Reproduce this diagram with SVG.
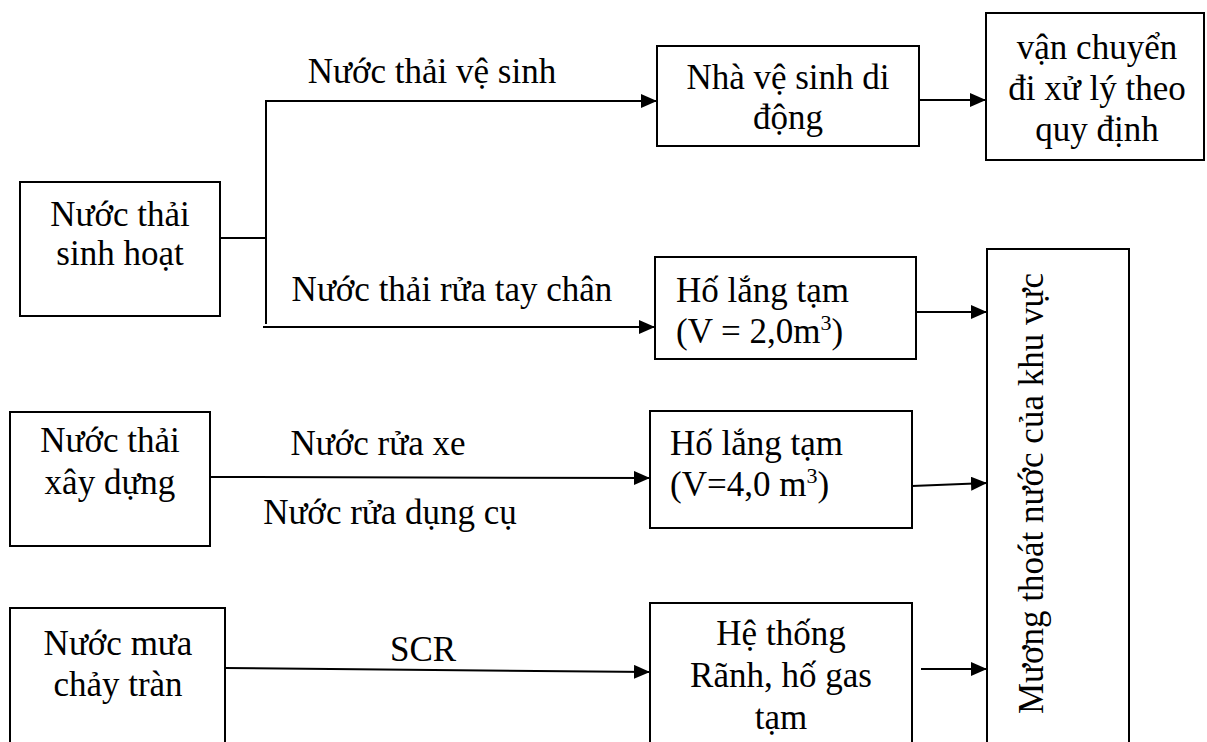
<svg xmlns="http://www.w3.org/2000/svg" width="1207" height="742" viewBox="0 0 1207 742">
<defs>
<style>
.box{fill:#fff;stroke:#000;stroke-width:2}
.ln{fill:none;stroke:#000;stroke-width:2}
.arr{fill:none;stroke:#000;stroke-width:2;marker-end:url(#ah)}
.t{font-family:'Liberation Serif','DejaVu Serif',serif;font-size:35px;fill:#000}
.c{text-anchor:middle}
</style>
<marker id="ah" markerUnits="userSpaceOnUse" markerWidth="16" markerHeight="14" refX="16" refY="7" orient="auto">
<path d="M0,0 L16,7 L0,14 Z" fill="#000"/>
</marker>
</defs>
<rect width="1207" height="742" fill="#fff"/>
<g id="connectors">
<line class="ln" x1="220" y1="238" x2="266" y2="238"/>
<line class="ln" x1="266" y1="100" x2="266" y2="324"/>
<line class="arr" x1="265" y1="101" x2="657" y2="101"/>
<line class="arr" x1="263" y1="327" x2="655" y2="327"/>
<line class="arr" x1="919" y1="100" x2="986" y2="100"/>
<line class="arr" x1="916" y1="312" x2="987" y2="312"/>
<line class="arr" x1="210" y1="477" x2="650" y2="478"/>
<line class="arr" x1="912" y1="486" x2="987" y2="483"/>
<line class="arr" x1="225" y1="668" x2="650" y2="672"/>
<line class="arr" x1="921" y1="669" x2="987" y2="669"/>
<g class="t" font-family="Liberation Serif, DejaVu Serif, serif">
<text class="c" x="432" y="83">Nước thải vệ sinh</text>
<text class="c" x="452" y="301">Nước thải rửa tay chân</text>
<text class="c" x="378" y="455">Nước rửa xe</text>
<text class="c" x="390" y="524">Nước rửa dụng cụ</text>
<text class="c" x="423" y="661">SCR</text>
</g>
</g>
<g id="n-sinhhoat" class="t" font-family="Liberation Serif, DejaVu Serif, serif">
<rect class="box" x="20" y="182" width="200" height="134"/>
<text class="c" x="120" y="226">Nước thải</text>
<text class="c" x="120" y="265">sinh hoạt</text>
</g>
<g id="n-nhavesinh" class="t" font-family="Liberation Serif, DejaVu Serif, serif">
<rect class="box" x="657" y="46" width="262" height="100"/>
<text class="c" x="788" y="89">Nhà vệ sinh di</text>
<text class="c" x="788" y="129">động</text>
</g>
<g id="n-vanchuyen" class="t" font-family="Liberation Serif, DejaVu Serif, serif">
<rect class="box" x="986" y="13" width="218" height="147"/>
<text class="c" x="1097" y="59">vận chuyển</text>
<text class="c" x="1097" y="100">đi xử lý theo</text>
<text class="c" x="1097" y="141">quy định</text>
</g>
<g id="n-holang1" class="t" font-family="Liberation Serif, DejaVu Serif, serif">
<rect class="box" x="655" y="257" width="261" height="102"/>
<text x="676" y="302">Hố lắng tạm</text>
<text x="676" y="343">(V = 2,0m<tspan dy="-13" font-size="22">3</tspan><tspan dy="13">)</tspan></text>
</g>
<g id="n-muong" class="t" font-family="Liberation Serif, DejaVu Serif, serif">
<rect class="box" x="987" y="249" width="142" height="520"/>
<text transform="translate(1043,714) rotate(-90)">Mương thoát nước của khu vực</text>
</g>
<g id="n-xaydung" class="t" font-family="Liberation Serif, DejaVu Serif, serif">
<rect class="box" x="10" y="412" width="200" height="134"/>
<text class="c" x="110" y="452">Nước thải</text>
<text class="c" x="110" y="494">xây dựng</text>
</g>
<g id="n-holang2" class="t" font-family="Liberation Serif, DejaVu Serif, serif">
<rect class="box" x="650" y="411" width="262" height="117"/>
<text x="670" y="455">Hố lắng tạm</text>
<text x="670" y="496">(V=4,0 m<tspan dy="-13" font-size="22">3</tspan><tspan dy="13">)</tspan></text>
</g>
<g id="n-nuocmua" class="t" font-family="Liberation Serif, DejaVu Serif, serif">
<rect class="box" x="10" y="608" width="215" height="160"/>
<text class="c" x="118" y="655">Nước mưa</text>
<text class="c" x="118" y="696">chảy tràn</text>
</g>
<g id="n-hethong" class="t" font-family="Liberation Serif, DejaVu Serif, serif">
<rect class="box" x="650" y="603" width="262" height="165"/>
<text class="c" x="781" y="645">Hệ thống</text>
<text class="c" x="781" y="687">Rãnh, hố gas</text>
<text class="c" x="781" y="729">tạm</text>
</g>
</svg>
